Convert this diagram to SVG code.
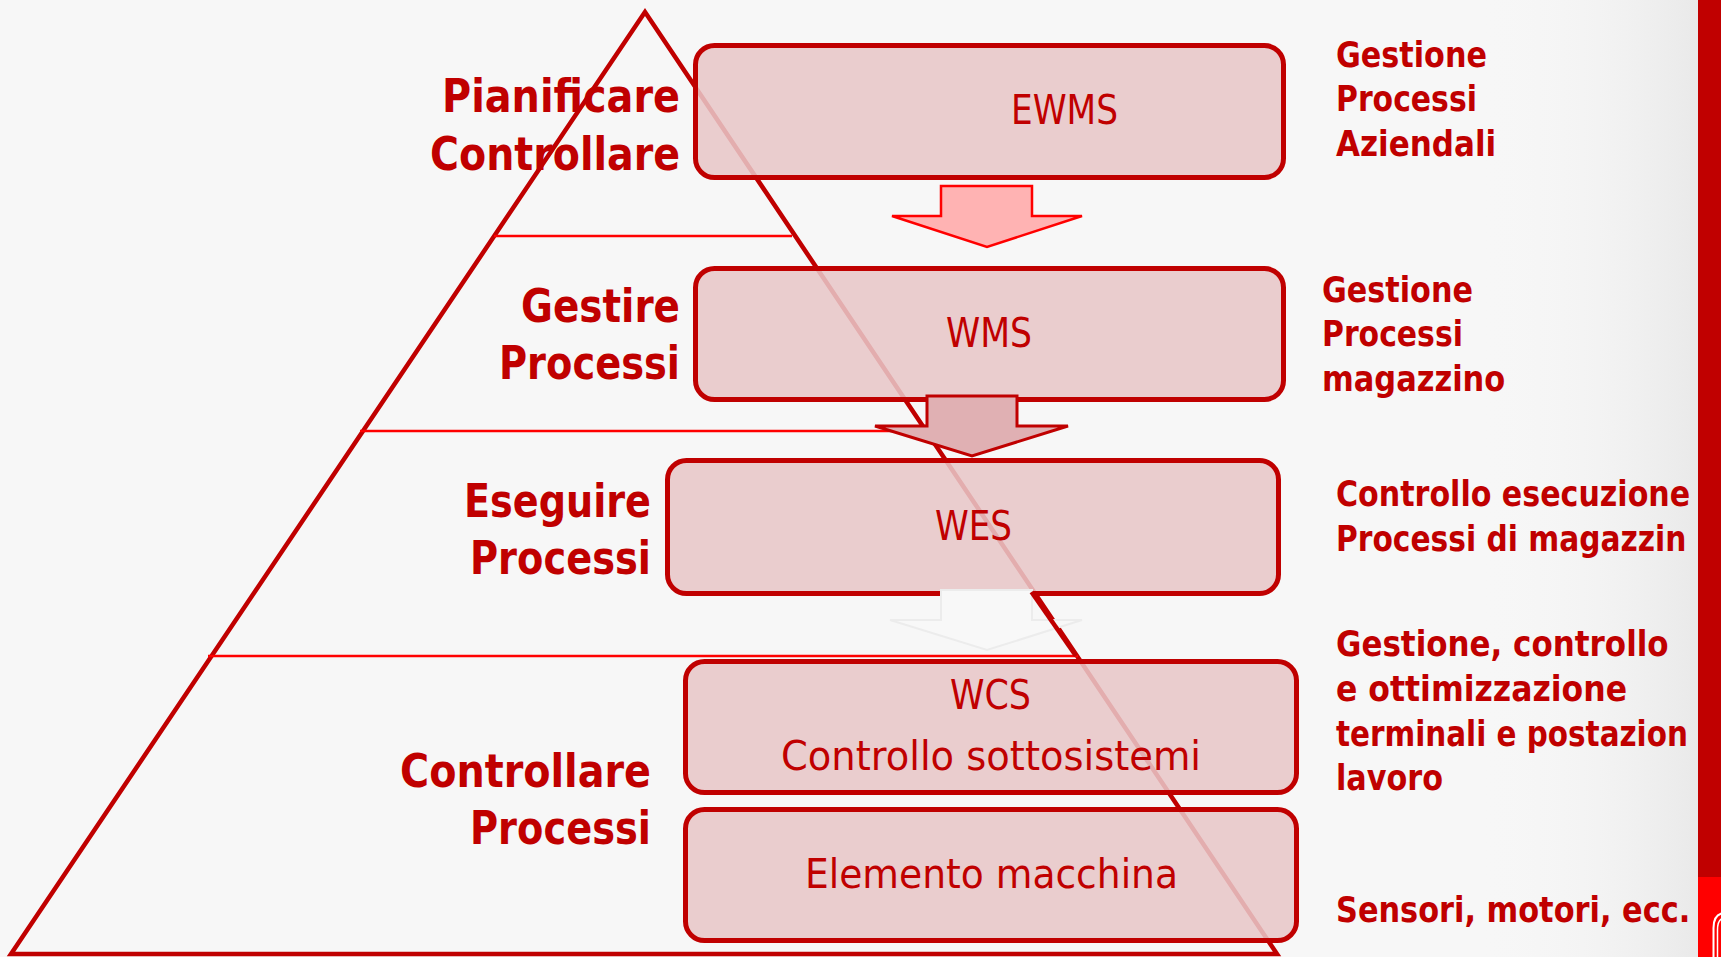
<svg xmlns="http://www.w3.org/2000/svg" width="1721" height="957" viewBox="0 0 1721 957">
<defs>
<linearGradient id="bgR" x1="0" y1="0" x2="1" y2="0">
<stop offset="0" stop-color="#f7f7f7" stop-opacity="0"/>
<stop offset="1" stop-color="#e6e6e6" stop-opacity="1"/>
</linearGradient>
<style>
.lbl{font-family:"DejaVu Sans","Liberation Sans",sans-serif;font-weight:bold;font-size:46px;fill:#c00000}
.rl{font-family:"DejaVu Sans","Liberation Sans",sans-serif;font-weight:bold;font-size:36px;fill:#c00000}
.bt{font-family:"DejaVu Sans","Liberation Sans",sans-serif;font-size:40px;fill:#c00000}
.box{fill:#e8c7c8;fill-opacity:0.87;stroke:#c00000;stroke-width:5}
.tri{fill:none;stroke:#c00000;stroke-width:4.5}
.hl{stroke:#ff0000;stroke-width:2.5}
</style>
</defs>
<rect width="1721" height="957" fill="#f7f7f7"/>
<rect x="1480" y="0" width="218" height="957" fill="url(#bgR)" opacity="0.8"/>

<g id="pyramid">
<polygon class="tri" points="645,12 11,954 1277,954"/>
<line class="hl" x1="494" y1="236" x2="792" y2="236"/>
<line class="hl" x1="360" y1="431" x2="912" y2="431"/>
<line class="hl" x1="208" y1="656" x2="1078" y2="656"/>
</g>

<g id="labels-left">
<text class="lbl" x="442" y="112" textLength="238" lengthAdjust="spacingAndGlyphs">Pianificare</text>
<text class="lbl" x="430" y="170" textLength="250" lengthAdjust="spacingAndGlyphs">Controllare</text>
<text class="lbl" x="521" y="322" textLength="159" lengthAdjust="spacingAndGlyphs">Gestire</text>
<text class="lbl" x="499" y="379" textLength="181" lengthAdjust="spacingAndGlyphs">Processi</text>
<text class="lbl" x="464" y="517" textLength="187" lengthAdjust="spacingAndGlyphs">Eseguire</text>
<text class="lbl" x="470" y="574" textLength="181" lengthAdjust="spacingAndGlyphs">Processi</text>
<text class="lbl" x="400" y="787" textLength="251" lengthAdjust="spacingAndGlyphs">Controllare</text>
<text class="lbl" x="470" y="844" textLength="181" lengthAdjust="spacingAndGlyphs">Processi</text>
</g>

<g id="node-ewms">
<rect class="box" x="695.5" y="45.5" width="588" height="132" rx="19"/>
<text class="bt" x="1011" y="124" textLength="107" lengthAdjust="spacingAndGlyphs">EWMS</text>
</g>
<g id="node-wms">
<rect class="box" x="695.5" y="268.5" width="588" height="131" rx="19"/>
<text class="bt" x="946" y="347" textLength="86" lengthAdjust="spacingAndGlyphs">WMS</text>
</g>
<g id="node-wes">
<rect class="box" x="667.5" y="460.5" width="611" height="133" rx="19"/>
<text class="bt" x="935" y="540" textLength="77" lengthAdjust="spacingAndGlyphs">WES</text>
</g>
<g id="node-wcs">
<rect class="box" x="685.5" y="661.5" width="611" height="131" rx="19"/>
<text class="bt" x="950" y="709" textLength="81" lengthAdjust="spacingAndGlyphs">WCS</text>
<text class="bt" x="781" y="770" textLength="420" lengthAdjust="spacingAndGlyphs">Controllo sottosistemi</text>
</g>
<g id="node-elemento">
<rect class="box" x="685.5" y="809.5" width="611" height="131" rx="19"/>
<text class="bt" x="805" y="888" textLength="373" lengthAdjust="spacingAndGlyphs">Elemento macchina</text>
</g>

<g id="connectors">
<polygon points="941,186 1032,186 1032,216 1082,216 987,247 892,216 941,216" fill="#ffb3b3" stroke="#ff0000" stroke-width="2.5"/>
<polygon points="927,396 1017,396 1017,426 1068,426 972,456 875,426 927,426" fill="#e0b0b3" stroke="#c00000" stroke-width="3"/>
<polygon points="941,590 1032,590 1032,620 1082,620 987,650 890,620 941,620" fill="#f8f8f8" stroke="#ececec" stroke-width="2"/>
<line x1="1031.5" y1="592" x2="1076" y2="656" stroke="#c00000" stroke-width="4.5"/>
</g>

<g id="labels-right">
<text class="rl" transform="translate(1336,67) scale(0.77,1)" textLength="196" lengthAdjust="spacingAndGlyphs">Gestione</text>
<text class="rl" transform="translate(1336,111) scale(0.77,1)" textLength="183" lengthAdjust="spacingAndGlyphs">Processi</text>
<text class="rl" transform="translate(1336,156) scale(0.77,1)" textLength="208" lengthAdjust="spacingAndGlyphs">Aziendali</text>
<text class="rl" transform="translate(1322,302) scale(0.77,1)" textLength="196" lengthAdjust="spacingAndGlyphs">Gestione</text>
<text class="rl" transform="translate(1322,346) scale(0.77,1)" textLength="183" lengthAdjust="spacingAndGlyphs">Processi</text>
<text class="rl" transform="translate(1322,391) scale(0.77,1)" textLength="238" lengthAdjust="spacingAndGlyphs">magazzino</text>
<text class="rl" transform="translate(1336,506) scale(0.77,1)" textLength="460" lengthAdjust="spacingAndGlyphs">Controllo esecuzione</text>
<text class="rl" transform="translate(1336,551) scale(0.77,1)" textLength="455" lengthAdjust="spacingAndGlyphs">Processi di magazzin</text>
<text class="rl" transform="translate(1336,656) scale(0.77,1)" textLength="432" lengthAdjust="spacingAndGlyphs">Gestione, controllo</text>
<text class="rl" transform="translate(1336,701) scale(0.77,1)" textLength="378" lengthAdjust="spacingAndGlyphs">e ottimizzazione</text>
<text class="rl" transform="translate(1336,746) scale(0.77,1)" textLength="457" lengthAdjust="spacingAndGlyphs">terminali e postazion</text>
<text class="rl" transform="translate(1336,790) scale(0.77,1)" textLength="139" lengthAdjust="spacingAndGlyphs">lavoro</text>
<text class="rl" transform="translate(1336,922) scale(0.77,1)" textLength="460" lengthAdjust="spacingAndGlyphs">Sensori, motori, ecc.</text>
</g>

<g id="sidebar">
<rect x="1698" y="0" width="23" height="878" fill="#c00000"/>
<rect x="1698" y="877" width="23" height="80" fill="#ff0000"/>
<path d="M1713.5,957 V928 Q1713.5,914 1724,913" fill="none" stroke="#ffffff" stroke-width="2"/>
<path d="M1717.5,957 V930 Q1717.5,919 1724,918" fill="none" stroke="#ffffff" stroke-width="1.5"/>
</g>
</svg>
